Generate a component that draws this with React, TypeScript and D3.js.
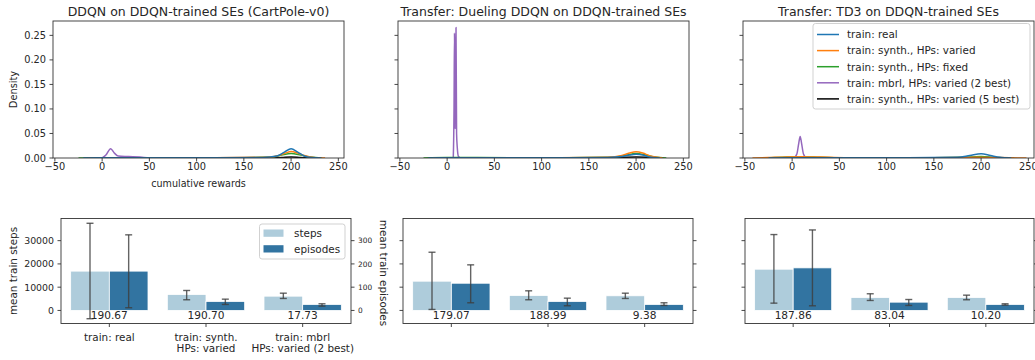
import React from "react";
import * as d3 from "d3";

// ---------- data ----------
// Density traces, as [cumulative reward, density] pairs.
const ddqnReal = [[-20, 0], [0, 0.0003], [100, 0.0004], [170, 0.0012], [185, 0.004], [193, 0.012], [200, 0.019], [207, 0.012], [214, 0.004], [222, 0.0008], [232, 0]];
const ddqnSynthVaried = [[-15, 0], [5, 0.0004], [100, 0.0004], [175, 0.0015], [187, 0.005], [194, 0.01], [200, 0.013], [207, 0.01], [214, 0.005], [224, 0.001], [236, 0]];
const ddqnSynthFixed = [[-25, 0], [0, 0.0006], [50, 0.0005], [150, 0.0006], [180, 0.002], [190, 0.006], [200, 0.009], [210, 0.006], [220, 0.002], [233, 0]];
const ddqnMbrl = [[0, 0], [4, 0.006], [9, 0.019], [13, 0.01], [17, 0.004], [28, 0.003], [40, 0.0018], [50, 0.0005], [60, 0]];
const ddqnSynthBest = [[170, 0], [190, 0.001], [200, 0.002], [210, 0.001], [230, 0]];

const duelReal = [[-20, 0], [0, 0.0004], [100, 0.0006], [170, 0.0012], [185, 0.003], [193, 0.006], [200, 0.0075], [207, 0.006], [214, 0.002], [225, 0]];
const duelSynthVaried = [[-15, 0], [10, 0.0005], [100, 0.0006], [170, 0.0015], [185, 0.005], [193, 0.01], [200, 0.0125], [207, 0.01], [215, 0.004], [228, 0]];
const duelSynthFixed = [[-25, 0], [0, 0.0008], [20, 0.0009], [100, 0.0006], [175, 0.0015], [188, 0.005], [200, 0.009], [210, 0.006], [220, 0.002], [232, 0]];
const duelMbrl = [[6.5, 0], [7.3, 0.1], [7.8, 0.255], [8.3, 0.06], [8.8, 0.18], [9.4, 0.266], [10.0, 0.05], [10.8, 0.02], [12, 0.003], [14, 0]];
const duelSynthBest = [[175, 0], [200, 0.002], [225, 0]];

const td3Real = [[-25, 0], [0, 0.0003], [100, 0.0004], [175, 0.0015], [188, 0.005], [200, 0.0085], [210, 0.005], [220, 0.0015], [232, 0]];
const td3SynthVaried = [[-42, 0], [-25, 0.001], [-5, 0.0022], [10, 0.0025], [30, 0.0018], [55, 0.0006], [100, 0.0003], [175, 0.0008], [195, 0.0015], [210, 0.0012], [230, 0.0004], [248, 0]];
const td3SynthFixed = [[-30, 0], [-10, 0.0015], [10, 0.0025], [30, 0.0015], [60, 0.0004], [150, 0.0004], [190, 0.002], [200, 0.003], [212, 0.0015], [235, 0]];
const td3Mbrl = [[2, 0], [5, 0.008], [7, 0.03], [8.5, 0.044], [10, 0.03], [12, 0.008], [15, 0]];
const td3SynthBest = [[180, 0], [200, 0.0015], [220, 0]];

const kdeLabels = [
  "train: real",
  "train: synth., HPs: varied",
  "train: synth., HPs: fixed",
  "train: mbrl, HPs: varied (2 best)",
  "train: synth., HPs: varied (5 best)",
];
const kdeTitles = [
  "DDQN on DDQN-trained SEs (CartPole-v0)",
  "Transfer: Dueling DDQN on DDQN-trained SEs",
  "Transfer: TD3 on DDQN-trained SEs",
];
const rewardTicks = [-50, 0, 50, 100, 150, 200, 250];
const densityTicks = [0, 0.05, 0.1, 0.15, 0.2, 0.25];

// Training-cost bars
const categories = ["train: real", "train: synth.\nHPs: varied", "train: mbrl\nHPs: varied (2 best)"];
const hueLevels = ["steps", "episodes"];

const ddqnStepsMean = [16900, 6870, 6140];
const ddqnStepsLo = [-3560, 4590, 5150];
const ddqnStepsHi = [37470, 8580, 7420];
const ddqnEpMean = [169, 38.6, 25.8];
const ddqnEpLo = [11.6, 25.8, 18.5];
const ddqnEpHi = [325, 48.5, 28.7];
const ddqnRewards = [190.67, 190.7, 17.73];

const duelStepsMean = [12580, 6440, 6300];
const duelStepsLo = [430, 4590, 5150];
const duelStepsHi = [25020, 8440, 7420];
const duelEpMean = [117, 38.6, 25.8];
const duelEpLo = [33, 20.2, 21.5];
const duelEpHi = [196, 52.8, 33];
const duelRewards = [179.07, 188.99, 9.38];

const td3StepsMean = [17730, 5580, 5580];
const td3StepsLo = [3140, 4290, 4590];
const td3StepsHi = [32620, 7170, 6570];
const td3EpMean = [183, 35.6, 25.8];
const td3EpLo = [20, 21.5, 22.9];
const td3EpHi = [346, 47, 28.7];
const td3Rewards = [187.86, 83.04, 10.2];

const stepTicks = [0, 10000, 20000, 30000];
const episodeTicks = [0, 100, 200, 300];

// ---------- styling ----------
const FONT = "DejaVu Sans, sans-serif";
const INK = "#262626";
const SPINE = "#333";
const kdeColors = ["#1f77b4", "#ff7f0e", "#2ca02c", "#9467bd", "#000000"];
const barColors = ["#aeccdb", "#3274a1"];

const kdePanels = [
  { x0: 53, x1: 344, curves: [ddqnReal, ddqnSynthVaried, ddqnSynthFixed, ddqnMbrl, ddqnSynthBest] },
  { x0: 398, x1: 689, curves: [duelReal, duelSynthVaried, duelSynthFixed, duelMbrl, duelSynthBest] },
  { x0: 743, x1: 1034, curves: [td3Real, td3SynthVaried, td3SynthFixed, td3Mbrl, td3SynthBest] },
];
const KDE_TOP = 21;
const KDE_BOTTOM = 158;

const barPanels = [
  { x0: 61, x1: 351, sm: ddqnStepsMean, sl: ddqnStepsLo, sh: ddqnStepsHi, em: ddqnEpMean, el: ddqnEpLo, eh: ddqnEpHi, rw: ddqnRewards },
  { x0: 403, x1: 693, sm: duelStepsMean, sl: duelStepsLo, sh: duelStepsHi, em: duelEpMean, el: duelEpLo, eh: duelEpHi, rw: duelRewards },
  { x0: 745, x1: 1034, sm: td3StepsMean, sl: td3StepsLo, sh: td3StepsHi, em: td3EpMean, el: td3EpLo, eh: td3EpHi, rw: td3Rewards },
];
const BAR_TOP = 218.5;
const BAR_BOTTOM = 323.5;

// shared scales
const allDensity = kdePanels.flatMap((p) => p.curves.flatMap((c) => c.map((d) => d[1])));
const yDensity = d3.scaleLinear().domain([0, (d3.max(allDensity) as number) * 1.05]).range([KDE_BOTTOM, KDE_TOP]);

const stepLo = d3.min(barPanels.flatMap((p) => p.sl)) as number;
const stepHi = d3.max(barPanels.flatMap((p) => p.sh)) as number;
const stepPad = (stepHi - stepLo) * 0.05;
const ySteps = d3.scaleLinear().domain([stepLo - stepPad, stepHi + stepPad]).range([BAR_BOTTOM, BAR_TOP]);
const yEpisodes = d3.scaleLinear().domain([(stepLo - stepPad) / 100, (stepHi + stepPad) / 100]).range([BAR_BOTTOM, BAR_TOP]);

function KdePanel({ idx }: { idx: number }) {
  const p = kdePanels[idx];
  const x = d3.scaleLinear().domain([-52, 256]).range([p.x0, p.x1]);
  const line = d3
    .line<number[]>()
    .x((d) => x(d[0]))
    .y((d) => yDensity(d[1]))
    .curve(d3.curveMonotoneX);
  const order = [4, 3, 2, 1, 0];
  const cx = (p.x0 + p.x1) / 2;
  return (
    <g>
      <text x={cx} y={16} textAnchor="middle" fontSize={12.5} fill={INK}>
        {kdeTitles[idx]}
      </text>
      <defs>
        <clipPath id={`kclip${idx}`}>
          <rect x={p.x0} y={KDE_TOP} width={p.x1 - p.x0} height={KDE_BOTTOM - KDE_TOP} />
        </clipPath>
      </defs>
      <g clipPath={`url(#kclip${idx})`}>
        {order.map((i) => (
          <path key={i} d={line(p.curves[i] as number[][]) || ""} fill="none" stroke={kdeColors[i]} strokeWidth={1.5} strokeLinejoin="round" />
        ))}
      </g>
      <rect x={p.x0} y={KDE_TOP} width={p.x1 - p.x0} height={KDE_BOTTOM - KDE_TOP} fill="none" stroke={SPINE} strokeWidth={0.9} />
      {rewardTicks.map((t) => (
        <g key={t}>
          <line x1={x(t)} x2={x(t)} y1={KDE_BOTTOM} y2={KDE_BOTTOM + 3.5} stroke={SPINE} strokeWidth={0.9} />
          <text x={x(t)} y={KDE_BOTTOM + 12} textAnchor="middle" fontSize={9.8} fill={INK}>
            {t < 0 ? "\u2212" + Math.abs(t) : t}
          </text>
        </g>
      ))}
      {densityTicks.map((t) => (
        <g key={t}>
          <line x1={p.x0 - 3.5} x2={p.x0} y1={yDensity(t)} y2={yDensity(t)} stroke={SPINE} strokeWidth={0.9} />
          {idx === 0 && (
            <text x={p.x0 - 7} y={yDensity(t) + 3.5} textAnchor="end" fontSize={9.8} fill={INK}>
              {t.toFixed(2)}
            </text>
          )}
        </g>
      ))}
      {idx === 0 && (
        <>
          <text x={cx} y={187} textAnchor="middle" fontSize={9.6} fill={INK}>
            cumulative rewards
          </text>
          <text transform={`translate(16.5,${(KDE_TOP + KDE_BOTTOM) / 2}) rotate(-90)`} textAnchor="middle" fontSize={9.8} fill={INK}>
            Density
          </text>
        </>
      )}
      {idx === 2 && (
        <g>
          <rect x={813} y={23.5} width={217} height={85.5} rx={2.5} fill="white" fillOpacity={0.8} stroke="#cccccc" strokeWidth={0.9} />
          {kdeLabels.map((lab, i) => (
            <g key={lab}>
              <line x1={817} x2={839} y1={34.5 + i * 16.1} y2={34.5 + i * 16.1} stroke={kdeColors[i]} strokeWidth={1.5} />
              <text x={847} y={34.5 + i * 16.1 + 3.8} fontSize={10.4} fill={INK}>
                {lab}
              </text>
            </g>
          ))}
        </g>
      )}
    </g>
  );
}

function BarPanel({ idx }: { idx: number }) {
  const p = barPanels[idx];
  const xCat = d3.scaleBand<string>().domain(categories).range([p.x0, p.x1]).paddingInner(0.2).paddingOuter(0.1);
  const xHue = d3.scaleBand<string>().domain(hueLevels).range([0, xCat.bandwidth()]);
  const y0 = ySteps(0);
  const capHalf = 3.5;
  const errStyle = { stroke: "#3d3d3d", strokeWidth: 1.4, strokeOpacity: 0.8 };
  return (
    <g>
      {categories.map((c, i) => {
        const bx = xCat(c) as number;
        const sx = bx + (xHue("steps") as number);
        const ex = bx + (xHue("episodes") as number);
        const bw = xHue.bandwidth();
        const sTop = ySteps(p.sm[i]);
        const eTop = yEpisodes(p.em[i]);
        const scx = sx + bw / 2;
        const ecx = ex + bw / 2;
        return (
          <g key={c}>
            <rect x={sx} y={sTop} width={bw} height={y0 - sTop} fill={barColors[0]} stroke="white" strokeWidth={0.8} />
            <rect x={ex} y={eTop} width={bw} height={yEpisodes(0) - eTop} fill={barColors[1]} stroke="white" strokeWidth={0.8} />
            <line x1={scx} x2={scx} y1={ySteps(p.sl[i])} y2={ySteps(p.sh[i])} {...errStyle} />
            <line x1={scx - capHalf} x2={scx + capHalf} y1={ySteps(p.sl[i])} y2={ySteps(p.sl[i])} {...errStyle} />
            <line x1={scx - capHalf} x2={scx + capHalf} y1={ySteps(p.sh[i])} y2={ySteps(p.sh[i])} {...errStyle} />
            <line x1={ecx} x2={ecx} y1={yEpisodes(p.el[i])} y2={yEpisodes(p.eh[i])} {...errStyle} />
            <line x1={ecx - capHalf} x2={ecx + capHalf} y1={yEpisodes(p.el[i])} y2={yEpisodes(p.el[i])} {...errStyle} />
            <line x1={ecx - capHalf} x2={ecx + capHalf} y1={yEpisodes(p.eh[i])} y2={yEpisodes(p.eh[i])} {...errStyle} />
            <text x={bx + xCat.bandwidth() / 2} y={y0 + 9} textAnchor="middle" fontSize={10.6} fill={INK}>
              {p.rw[i].toFixed(2)}
            </text>
            <line x1={bx + xCat.bandwidth() / 2} x2={bx + xCat.bandwidth() / 2} y1={BAR_BOTTOM} y2={BAR_BOTTOM + 3.5} stroke={SPINE} strokeWidth={0.9} />
            {idx === 0 && (
              <text x={bx + xCat.bandwidth() / 2} y={BAR_BOTTOM + 17} textAnchor="middle" fontSize={10.4} fill={INK}>
                {c.split("\n").map((ln, k) => (
                  <tspan key={k} x={bx + xCat.bandwidth() / 2} dy={k === 0 ? 0 : 11.2}>
                    {ln}
                  </tspan>
                ))}
              </text>
            )}
          </g>
        );
      })}
      <rect x={p.x0} y={BAR_TOP} width={p.x1 - p.x0} height={BAR_BOTTOM - BAR_TOP} fill="none" stroke={SPINE} strokeWidth={0.9} />
      {stepTicks.map((t) => (
        <g key={t}>
          <line x1={p.x0 - 3.5} x2={p.x0} y1={ySteps(t)} y2={ySteps(t)} stroke={SPINE} strokeWidth={0.9} />
          {idx === 0 && (
            <text x={p.x0 - 7} y={ySteps(t) + 3.4} textAnchor="end" fontSize={9.4} fill={INK}>
              {t}
            </text>
          )}
        </g>
      ))}
      {episodeTicks.map((t) => (
        <g key={t}>
          <line x1={p.x1} x2={p.x1 + 3.5} y1={yEpisodes(t)} y2={yEpisodes(t)} stroke={SPINE} strokeWidth={0.9} />
          {idx === 0 && (
            <text x={p.x1 + 7} y={yEpisodes(t) + 2.6} textAnchor="start" fontSize={7.4} fill={INK}>
              {t}
            </text>
          )}
        </g>
      ))}
      {idx === 0 && (
        <>
          <text transform={`translate(16.5,${(BAR_TOP + BAR_BOTTOM) / 2}) rotate(-90)`} textAnchor="middle" fontSize={10.4} fill={INK}>
            mean train steps
          </text>
          <text transform={`translate(380,${(BAR_TOP + BAR_BOTTOM) / 2 + 2}) rotate(90)`} textAnchor="middle" fontSize={10.4} fill={INK}>
            mean train episodes
          </text>
          <g>
            <rect x={259.5} y={224} width={85.5} height={35} rx={2.5} fill="white" fillOpacity={0.8} stroke="#cccccc" strokeWidth={0.9} />
            {hueLevels.map((h, i) => (
              <g key={h}>
                <rect x={263.5} y={229.5 + i * 15.7} width={20} height={7.3} fill={barColors[i]} />
                <text x={294} y={236.8 + i * 15.7} fontSize={10.4} fill={INK}>
                  {h}
                </text>
              </g>
            ))}
          </g>
        </>
      )}
    </g>
  );
}

export default function App() {
  return (
    <svg width={1035} height={360} viewBox="0 0 1035 360" style={{ display: "block", position: "absolute", left: 0, top: 0, background: "white", fontFamily: FONT }}>
      <rect x={0} y={0} width={1035} height={360} fill="white" />
      {kdePanels.map((_, i) => (
        <KdePanel key={i} idx={i} />
      ))}
      {barPanels.map((_, i) => (
        <BarPanel key={i} idx={i} />
      ))}
    </svg>
  );
}
